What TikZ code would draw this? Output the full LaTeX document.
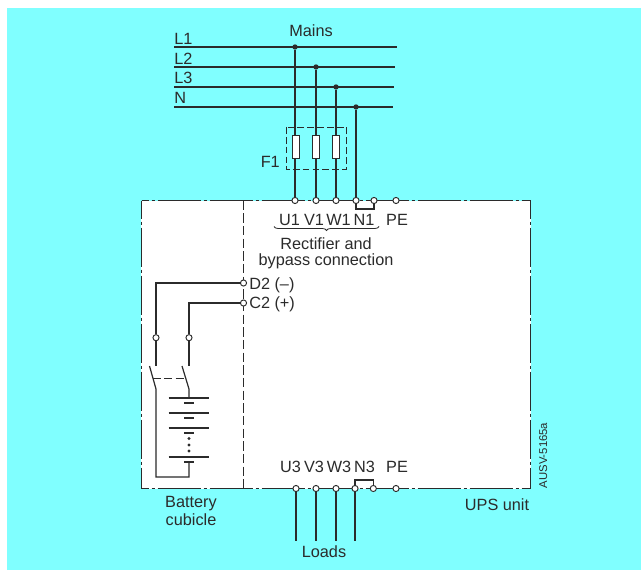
\documentclass[tikz,border=0pt]{standalone}
\usepackage{fontspec}
\setmainfont{Liberation Sans}
\usetikzlibrary{decorations.pathreplacing}
\definecolor{bgc}{HTML}{80FFFF}
\definecolor{ink}{HTML}{2B2B2B}
\tikzset{
  wire/.style={draw=ink,line width=0.9pt},
  thin wire/.style={draw=ink,line width=0.9pt},
  term/.style={circle,draw=ink,fill=white,line width=0.7pt,inner sep=0pt,minimum size=4.6pt},
  junc/.style={circle,fill=ink,inner sep=0pt,minimum size=4pt},
  lab/.style={text=ink,font=\fontsize{12.2}{14}\selectfont,inner sep=0pt},
  fuse/.style={draw=ink,fill=white,line width=0.7pt,inner sep=0pt,minimum width=5.25pt,minimum height=17.25pt},
  frameh/.style={draw=ink,line width=0.85pt,dash pattern=on 32.25pt off 2.25pt on 2.25pt off 2.25pt,dash phase=26.85pt},
  framev/.style={draw=ink,line width=0.85pt,dash pattern=on 29.25pt off 2.25pt on 2.25pt off 2.25pt,dash phase=15.75pt},
  linkdash/.style={draw=ink,line width=0.7pt,dash pattern=on 6pt off 2.5pt},
  longplate/.style={draw=ink,line width=1.5pt},
  shortplate/.style={draw=ink,line width=1.6pt},
}
\begin{document}
\begin{tikzpicture}[x=0.75pt,y=-0.75pt]
\useasboundingbox (0,0) rectangle (641,570);
\fill[bgc] (7,8) rectangle (641,570);
\fill[white] (141,200.5) rectangle (530.5,488.5);
% frame
\draw[frameh] (141.5,200.5) -- (530.5,200.5);
\draw[framev] (530.5,200.5) -- (530.5,488.5);
\draw[frameh] (141.5,488.5) -- (530.5,488.5);
\draw[framev] (141.5,200.5) -- (141.5,488.5);
\draw[draw=ink,line width=0.7pt,dash pattern=on 7pt off 2.5pt] (243.5,200.5) -- (243.5,488.5);

% mains
\coordinate (L1a) at (174,47); \coordinate (L1b) at (397,47);
\coordinate (L2a) at (174,67); \coordinate (L2b) at (395,67);
\coordinate (L3a) at (174,87); \coordinate (L3b) at (394,87);
\coordinate (Na) at (174,107); \coordinate (Nb) at (393,107);
\draw[wire] (L1a) -- (L1b);
\draw[wire] (L2a) -- (L2b);
\draw[wire] (L3a) -- (L3b);
\draw[wire] (Na) -- (Nb);
\node[junc] (j1) at (295,47) {};
\node[junc] (j2) at (316,67) {};
\node[junc] (j3) at (336,87) {};
\node[junc] (j4) at (356,107) {};
% terminals top
\node[term] (U1) at (295,200.5) {};
\node[term] (V1) at (316,200.5) {};
\node[term] (W1) at (336,200.5) {};
\node[term] (N1) at (356,200.5) {};
\node[term] (N1b) at (374,200.5) {};
\node[term] (PE1) at (396,200.5) {};
\draw[wire] (j1) -- (U1);
\draw[wire] (j2) -- (V1);
\draw[wire] (j3) -- (W1);
\draw[wire] (j4) -- (N1);
\draw[thin wire] (N1) |- (356,209) -| (N1b);
% fuses
\draw[linkdash,dash pattern=on 5pt off 2.4pt] (286,127) rectangle (346.3,169.5);
\node[fuse] (F1a) at (295.8,146.8) {};
\node[fuse] (F1b) at (315.8,146.8) {};
\node[fuse] (F1c) at (335.8,146.8) {};
% labels top
\node[lab] (mains) at (311,31) {Mains};
\node[lab,anchor=west] (tL1) at (174,39) {L1};
\node[lab,anchor=west] (tL2) at (174,58.5) {L2};
\node[lab,anchor=west] (tL3) at (174,78) {L3};
\node[lab,anchor=west] (tN) at (174,98) {N};
\node[lab,anchor=east] (tF1) at (280,161.5) {F1};
\node[lab] (tU1) at (289.5,220) {U1};
\node[lab] (tV1) at (314,220) {V1};
\node[lab] (tW1) at (338.5,220) {W1};
\node[lab] (tN1) at (364,220) {N1};
\node[lab] (tPE1) at (397,220) {PE};
\coordinate (bl) at (274,226.5);
\coordinate (br) at (379,226.5);
\draw[draw=ink,line width=0.6pt,decorate,decoration={brace,mirror,amplitude=3pt}] (bl) -- (br);
\node[lab] (trec) at (326,244) {Rectifier and};
\node[lab] (tbyp) at (326,261.5) {bypass connection};

% battery
\node[term] (D2) at (243.5,283) {};
\node[term] (C2) at (243.5,303) {};
\node[lab,anchor=west] (tD2) at (249,285) {D2 (–)};
\node[lab,anchor=west] (tC2) at (249,304.5) {C2 (+)};
\node[term] (s1) at (156,337.7) {};
\node[term] (s2) at (189,337.7) {};
\coordinate (s1t) at (156,366);
\coordinate (s2t) at (189,366);
\coordinate (b1t) at (149.5,366);
\coordinate (b1b) at (156,389);
\coordinate (b2t) at (182,366);
\coordinate (b2b) at (189,389);
\coordinate (m1) at (153,378);
\coordinate (m2) at (185.5,378);
\coordinate (p1) at (189,398);
\coordinate (pn) at (189,462);
\draw[thin wire] (D2) -| (s1);
\draw[thin wire] (C2) -| (s2);
\draw[thin wire] (s1) -- (s1t);
\draw[thin wire] (s2) -- (s2t);
\draw[thin wire] (b1t) -- (b1b) -- (156,477) -| (pn);
\draw[thin wire] (b2t) -- (b2b) -- (p1);
\draw[linkdash] (m1) -- (m2);
\foreach \y in {398,413,428,457}
  \draw[longplate] (168.5,\y) -- (209,\y);
\foreach \y in {403,418,433,462}
  \draw[shortplate] (184,\y) -- (193.5,\y);
\foreach \y in {438.5,445,451}
  \fill[ink] (189,\y) circle (1.3pt);
\node[lab] (tbat) at (191,503.5) {Battery};
\node[lab] (tcub) at (191,520) {cubicle};

% bottom terminals
\node[term] (U3) at (296,488.5) {};
\node[term] (V3) at (316,488.5) {};
\node[term] (W3) at (336,488.5) {};
\node[term] (N3) at (355,488.5) {};
\node[term] (N3b) at (373.3,488.5) {};
\node[term] (PE3) at (396,488.5) {};
\draw[thin wire] (N3) |- (355,480) -| (N3b);
\coordinate (U3e) at (296,541);
\coordinate (V3e) at (316,541);
\coordinate (W3e) at (336,541);
\coordinate (N3e) at (355,541);
\draw[wire] (U3) -- (U3e);
\draw[wire] (V3) -- (V3e);
\draw[wire] (W3) -- (W3e);
\draw[wire] (N3) -- (N3e);
\node[lab] (tU3) at (290.5,466.5) {U3};
\node[lab] (tV3) at (314,466.5) {V3};
\node[lab] (tW3) at (339,466.5) {W3};
\node[lab] (tN3) at (364.5,466.5) {N3};
\node[lab] (tPE3) at (397,466.5) {PE};
\node[lab] (tload) at (324,551.5) {Loads};
\node[lab] (tups) at (497,504.5) {UPS unit};
\node[lab,font=\fontsize{8.5}{10}\selectfont,rotate=90,anchor=west] (taus) at (543.3,488.5) {AUSV-5165a};
\end{tikzpicture}
\end{document}
